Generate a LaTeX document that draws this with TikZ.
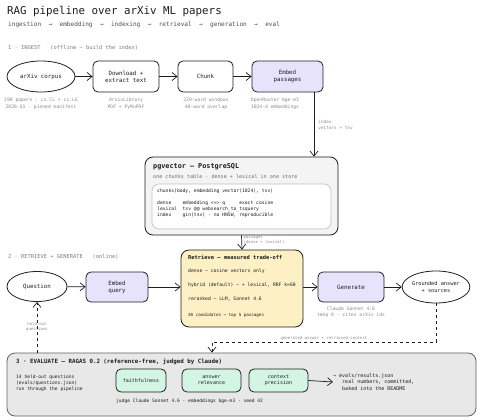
\documentclass[tikz,border=0pt]{standalone}
\usepackage{fontspec}
\setmainfont{DejaVu Sans Mono}
\usetikzlibrary{shapes.geometric,arrows.meta}

\definecolor{lav}{HTML}{E7E3FC}
\definecolor{sand}{HTML}{FDF0C4}
\definecolor{mint}{HTML}{D3F5E4}
\definecolor{pgfill}{HTML}{F4F4F4}
\definecolor{evfill}{HTML}{E8E8E8}
\definecolor{capgrey}{HTML}{8A8A8A}
\definecolor{ink}{HTML}{1E1E1E}

\tikzset{
  arr/.style={-{Straight Barb[length=5pt,width=8pt]}, line width=0.7pt, draw=ink},
  proc/.style={draw=ink, line width=0.8pt, rounded corners=5pt, minimum height=31pt,
    align=center, text=ink, font=\fontsize{5.8}{7}\selectfont},
  oval/.style={draw=ink, ellipse, line width=0.8pt, inner sep=0pt, align=center,
    text=ink, font=\fontsize{5.8}{7}\selectfont},
  metric/.style={proc, fill=mint, minimum height=23pt, font=\fontsize{5}{6.2}\selectfont},
  capt/.style={text=capgrey, align=center, inner sep=0pt, font=\fontsize{4.7}{6.5}\selectfont},
  lbl/.style={text=capgrey, align=left, inner sep=0pt, font=\fontsize{4}{5}\selectfont},
  sect/.style={text=capgrey!90!black, anchor=west, inner sep=0pt, font=\fontsize{5.4}{6.5}\selectfont},
  code/.style={text=ink, anchor=west, inner sep=0pt, font=\fontsize{4.7}{6}\selectfont},
}

\begin{document}
\begin{tikzpicture}[x=1pt, y=-1pt]
  \useasboundingbox (0,0) rectangle (480,420);

  % Title
  \node[anchor=west, inner sep=0pt, text=ink, font=\fontsize{10.8}{12}\selectfont] (title) at (7,11) {RAG pipeline over arXiv ML papers};
  \node[anchor=west, inner sep=0pt, text=ink!80, font=\fontsize{6.1}{7}\selectfont] (subtitle) at (8,25)
    {ingestion~~→~~embedding~~→~~indexing~~→~~retrieval~~→~~generation~~→~~eval};

  % 1 - ingest
  \node[sect] (s1) at (8,48) {1 · INGEST~~~(offline — build the index)};
  \node[oval, minimum width=68pt, minimum height=31pt] (arx) at (41,76.5) {arXiv corpus};
  \node[proc, minimum width=66pt] (dl) at (126,76.5) {Download +\\extract text};
  \node[proc, minimum width=55pt] (chunk) at (205.5,76.5) {Chunk};
  \node[proc, fill=lav, minimum width=71pt] (emb) at (287.5,76.5) {Embed\\passages};
  \draw[arr] (arx) -- (dl);
  \draw[arr] (dl) -- (chunk);
  \draw[arr] (chunk) -- (emb);

  \node[capt] (arxcap) at (41,103.5) {190 papers · cs.CL + cs.LG\\2026-Q1 · pinned manifest};
  \node[capt] (dlcap) at (126,103.5) {ArxivLibrary\\PDF + PyMuPDF};
  \node[capt] (chunkcap) at (206,103.5) {220-word windows\\40-word overlap};
  \node[capt] (embcap) at (275,103.5) {OpenRouter bge-m3\\1024-d embeddings};

  % pgvector store
  \node[draw=ink, line width=0.8pt, rounded corners=8pt, fill=pgfill, minimum width=193pt, minimum height=78pt] (pg) at (241.5,196) {};
  \node[anchor=west, inner sep=0pt, text=ink, font=\bfseries\fontsize{6.8}{8}\selectfont] (pgtitle) at (153,167) {pgvector — PostgreSQL};
  \node[sect, text=capgrey!80!black, font=\fontsize{5.1}{6}\selectfont] (pgsub) at (153,177) {one chunks table · dense + lexical in one store};
  \node[draw=black!25, line width=0.6pt, rounded corners=7pt, fill=white, minimum width=179pt, minimum height=45pt] (schema) at (241.5,206.5) {};
  \node[code] (c1) at (157,191) {chunks(body, embedding vector(1024), tsv)};
  \node[code] (c2) at (157,203) {dense~~~~embedding <=> q~~~~~exact cosine};
  \node[code] (c3) at (157,209) {lexical~~tsv @@ websearch\_to\_tsquery};
  \node[code] (c4) at (157,215) {index~~~~gin(tsv) · no HNSW, reproducible};

  \draw[arr] ([xshift=26.5pt]emb.south) -- ([xshift=26.5pt]emb.south |- pg.north)
    node[midway, lbl, anchor=west, xshift=4pt, font=\fontsize{4.4}{6}\selectfont] (idxlbl) {index\\vectors + tsv};

  % 2 - retrieve + generate
  \node[sect] (s2) at (8,257) {2 · RETRIEVE + GENERATE~~~(online)};
  \node[oval, minimum width=60pt, minimum height=30pt] (q) at (37,286.5) {Question};
  \node[proc, fill=lav, minimum width=62pt, minimum height=30pt] (eq) at (117,287) {Embed\\query};
  \node[proc, fill=sand, rounded corners=8pt, minimum width=122pt, minimum height=77pt] (ret) at (242,288.5) {};
  \node[code, font=\bfseries\fontsize{5.4}{6}\selectfont] (rt) at (188,257) {Retrieve — measured trade-off};
  \node[code] (r1) at (188,271) {dense — cosine vectors only};
  \node[code] (r2) at (188,285) {hybrid (default) — + lexical, RRF k=60};
  \node[code] (r3) at (188,299) {reranked — LLM, Sonnet 4.6};
  \node[code, font=\fontsize{4.2}{5}\selectfont] (r4) at (188,315) {30 candidates → top 5 passages};
  \node[proc, fill=lav, minimum width=66pt, minimum height=30pt] (gen) at (351,287) {Generate};
  \node[oval, minimum width=67pt, minimum height=32pt, font=\fontsize{5.3}{7}\selectfont] (ans) at (436,287) {Grounded answer\\+ sources};
  \node[capt] (gencap) at (351,312) {Claude Sonnet 4.6\\temp 0 · cites arXiv ids};

  \draw[arr] (pg.south) -- (ret.north)
    node[pos=0.35, lbl, anchor=west, xshift=1.5pt] (paslbl) {passages\\(dense + lexical)};
  \draw[arr] (q) -- (eq);
  \draw[arr] (eq.east) -- (eq.east -| ret.west);
  \draw[arr] (gen.west -| ret.east) -- (gen.west);
  \draw[arr] (gen) -- (ans);

  % 3 - evaluate
  \node[draw=ink!70, line width=0.8pt, rounded corners=8pt, fill=evfill, minimum width=469pt, minimum height=63pt] (ev) at (241.5,384.5) {};
  \node[code, font=\bfseries\fontsize{5.8}{7}\selectfont] (evtitle) at (16,362) {3 · EVALUATE — RAGAS 0.2 (reference-free, judged by Claude)};
  \node[code, align=left, anchor=north west, font=\fontsize{4.6}{6}\selectfont] (evq) at (16,374.5)
    {14 held-out questions\\(evals/questions.json)\\run through the pipeline};
  \node[metric, minimum width=50pt] (faith) at (141,380.5) {faithfulness};
  \node[metric, minimum width=59pt] (rel) at (211.5,380.5) {answer\\relevance};
  \node[metric, minimum width=59pt] (prec) at (278.5,380.5) {context\\precision};
  \node[code, align=left, font=\fontsize{5}{6.2}\selectfont] (res) at (333,382)
    {→ evals/results.json\\~~~real numbers, committed,\\~~~baked into the README};
  \node[code, font=\fontsize{4.6}{6}\selectfont] (judge) at (116,401) {judge Claude Sonnet 4.6 · embeddings bge-m3 · seed 42};
  \draw[arr] (prec.east) -- (res.west);

  % feedback loops
  \coordinate (fb) at (212,342);
  \draw[arr, dashed] (ans.south) |- (fb) -- (fb |- ev.north);
  \node[lbl, anchor=center] (fblbl) at (324,338) {generated answer + retrieved context};
  \draw[arr, dashed] (q.south |- ev.north) -- (q.south)
    node[pos=0.5, lbl, align=center, anchor=center] (heldlbl) {held-out\\questions};
\end{tikzpicture}
\end{document}
